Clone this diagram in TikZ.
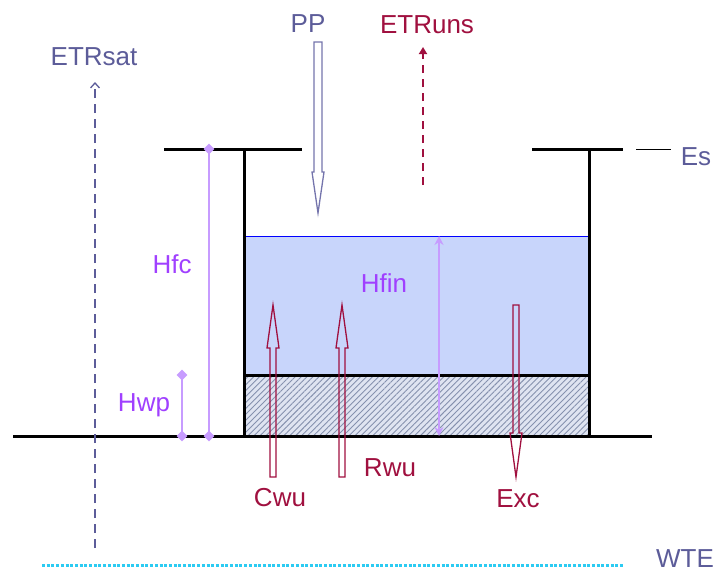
\documentclass[tikz,border=0pt]{standalone}
\usepackage{fontspec}
\setmainfont{Liberation Sans}
\usepackage{tikz}
\usetikzlibrary{arrows.meta,patterns.meta,shapes.geometric}
\usepackage{xcolor}
\definecolor{slate}{HTML}{5C5C99}
\definecolor{ppline}{HTML}{7474AC}
\definecolor{wine}{HTML}{A0103F}
\definecolor{depthtext}{HTML}{A040FF}
\definecolor{depthline}{HTML}{C79CFF}
\definecolor{water}{HTML}{C8D5FB}
\definecolor{soilbg}{HTML}{DFE4F1}
\definecolor{soilhatch}{HTML}{8591AE}
\definecolor{wte}{HTML}{2CCBF2}

\begin{document}
\begin{tikzpicture}[x=1pt,y=-1pt,
  lbl/.style={font=\fontsize{26}{30}\selectfont, anchor=base, inner sep=0pt},
  wall/.style={line width=3pt},
  depth/.style={depthline, line width=1.4pt},
  diam/.style={diamond, fill=depthline, inner sep=0pt, minimum size=11pt},
  hollow/.style={line width=1.3pt, line join=miter}]
  \useasboundingbox (0,0) rectangle (719,571);

  % water and soil layer
  \fill[water] (244,236) rectangle (589,375);
  \draw[blue, line width=1pt] (244,236) -- (589,236);
  \fill[soilbg] (244,375) rectangle (589,436);
  \fill[pattern={Lines[angle=45,distance=4.2pt,line width=0.9pt]}, pattern color=soilhatch] (244,375) rectangle (589,436);
  \draw[wall] (244,375) -- (589,375);

  % walls, ledges and ground
  \draw[wall] (164,149) -- (302,149);
  \draw[wall] (532,149) -- (623,149);
  \draw[wall] (244,149) -- (244,437.5);
  \draw[wall] (589,149) -- (589,437.5);
  \draw[wall] (13,436) -- (652,436);
  \draw[line width=1pt] (636,149) -- (671,149);

  % depths
  \node[diam] (fctop) at (209,149) {};
  \node[diam] (fcbot) at (209,436) {};
  \draw[depth] (fctop.center) -- (fcbot.center);
  \node[diam] (wptop) at (182,375) {};
  \node[diam] (wpbot) at (182,436) {};
  \draw[depth] (wptop.center) -- (wpbot.center);
  \coordinate (fintop) at (439,236);
  \coordinate (finbot) at (439,436);
  \draw[depth, {Stealth[length=9pt,width=9pt]}-{Stealth[length=9pt,width=9pt]}] (finbot) -- (fintop);

  % evapotranspiration
  \coordinate (sat0) at (95,548);
  \coordinate (sat1) at (95,82);
  \draw[slate, line width=1.3pt, dash pattern=on 9pt off 6pt, -{Straight Barb[length=5pt,width=9pt]}] (sat0) -- (sat1);
  \coordinate (uns0) at (423,185);
  \coordinate (uns1) at (423,47);
  \draw[wine, line width=2pt, dash pattern=on 8pt off 6pt, -{Triangle[length=7pt,width=8pt]}] (uns0) -- (uns1);

  % hollow flux arrows
  \draw[hollow, ppline] (314,42) -- (314,172) -- (312,172) -- (318,213) -- (324,172) -- (322,172) -- (322,42) -- cycle;
  \foreach \x in {273,342}
    \draw[hollow, wine] (\x-3,477) -- (\x-3,348) -- (\x-6,348) -- (\x,305) -- (\x+6,348) -- (\x+3,348) -- (\x+3,477) -- cycle;
  \draw[hollow, wine] (513,305) -- (513,433) -- (510,433) -- (516,477) -- (522,433) -- (519,433) -- (519,305) -- cycle;

  % water table
  \coordinate (wte0) at (42,565);
  \coordinate (wte1) at (623,565);
  \draw[wte, line width=3pt, dash pattern=on 3pt off 1.7pt] (wte0) -- (wte1);

  % labels
  \node[lbl, slate] (etrsat) at (94,65) {ETRsat};
  \node[lbl, slate] (pp) at (308,32) {PP};
  \node[lbl, wine] (etruns) at (427,33) {ETRuns};
  \node[lbl, slate] (es) at (696,165) {Es};
  \node[lbl, depthtext] (hfc) at (172,273) {Hfc};
  \node[lbl, depthtext] (hwp) at (144,411) {Hwp};
  \node[lbl, depthtext] (hfin) at (384,292) {Hfin};
  \node[lbl, wine] (cwu) at (280,506) {Cwu};
  \node[lbl, wine] (rwu) at (390,476) {Rwu};
  \node[lbl, wine] (exc) at (518,507) {Exc};
  \node[lbl, slate] (wtelbl) at (685,567) {WTE};
\end{tikzpicture}
\end{document}
